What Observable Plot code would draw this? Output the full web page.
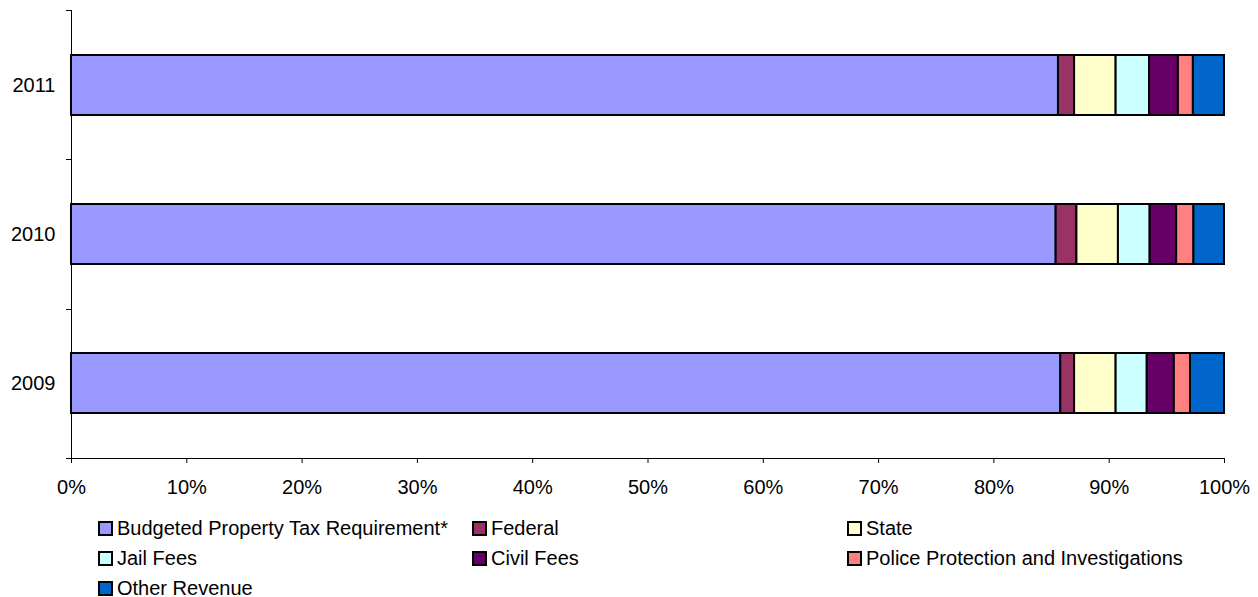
<!DOCTYPE html>
<html><head><meta charset="utf-8">
<script src="https://cdn.jsdelivr.net/npm/d3@7"></script>
<script src="https://cdn.jsdelivr.net/npm/@observablehq/plot@0.6"></script>
<style>
body{margin:0;background:#fff;font-family:"Liberation Sans",Arial,sans-serif;}
#legend{display:grid;grid-template-columns:374px 375px 380px;padding-left:98px;margin-top:8px;font-size:20px;line-height:30px;color:#000;}
.item{display:flex;align-items:center;white-space:nowrap;}
.sw{display:inline-block;width:11px;height:11px;border:2px solid #000;margin-right:4px;}
</style></head>
<body><div id="chart"></div><div id="legend"></div>
<script>
const years = ["2011", "2010", "2009"];
const categories = ["Budgeted Property Tax Requirement*", "Federal", "State", "Jail Fees", "Civil Fees", "Police Protection and Investigations", "Other Revenue"];
const colors = ["#9999FF", "#993366", "#FFFFCC", "#CCFFFF", "#660066", "#FF8080", "#0066CC"];
const values2011 = [85.6, 1.4, 3.6, 2.9, 2.5, 1.3, 2.7];
const values2010 = [85.4, 1.8, 3.6, 2.75, 2.3, 1.5, 2.65];
const values2009 = [85.8, 1.2, 3.6, 2.7, 2.35, 1.4, 2.95];
const xTicks = [0, 0.1, 0.2, 0.3, 0.4, 0.5, 0.6, 0.7, 0.8, 0.9, 1];

const series = {"2011": values2011, "2010": values2010, "2009": values2009};
const table = years.flatMap(y => categories.map((c, i) => ({year: y, category: c, value: series[y][i]})));

function axisLines(index, scales, values, dims) {
  const {width, height, marginTop, marginBottom, marginLeft, marginRight} = dims;
  const bottom = height - marginBottom;
  const n = years.length;
  const g = d3.create("svg:g").attr("stroke", "#000").attr("stroke-width", 1).attr("shape-rendering", "crispEdges");
  g.append("line").attr("x1", marginLeft + 0.5).attr("x2", marginLeft + 0.5).attr("y1", marginTop).attr("y2", bottom);
  g.append("line").attr("x1", marginLeft - 5).attr("x2", width - marginRight).attr("y1", bottom + 0.5).attr("y2", bottom + 0.5);
  for (let i = 0; i <= n; i++) {
    const y = marginTop + i * (bottom - marginTop) / n;
    g.append("line").attr("x1", marginLeft - 5).attr("x2", marginLeft).attr("y1", Math.round(y) + 0.5).attr("y2", Math.round(y) + 0.5);
  }
  return g.node();
}

const chart = Plot.plot({
  width: 1258,
  height: 505,
  marginTop: 10,
  marginBottom: 47,
  marginLeft: 71,
  marginRight: 34,
  style: {fontFamily: "'Liberation Sans', Arial, sans-serif", fontSize: "20px", color: "#000", background: "#fff"},
  x: {domain: [0, 1]},
  y: {domain: years, paddingInner: 0.6, paddingOuter: 0.3},
  color: {domain: categories, range: colors},
  marks: [
    Plot.barX(table, Plot.stackX({x: "value", y: "year", fill: "category", offset: "normalize", order: null, stroke: "#000", strokeWidth: 2})),
    axisLines,
    Plot.axisX({ticks: xTicks, tickFormat: d3.format(".0%"), tickSize: 5, tickPadding: 16, label: null, fontSize: 20}),
    Plot.axisY({tickSize: 0, tickPadding: 16, label: null, fontSize: 20})
  ]
});
document.getElementById("chart").appendChild(chart);

const legend = document.getElementById("legend");
categories.forEach((c, i) => {
  const it = document.createElement("div");
  it.className = "item";
  const sw = document.createElement("span");
  sw.className = "sw";
  sw.style.background = colors[i];
  it.appendChild(sw);
  it.appendChild(document.createTextNode(c));
  legend.appendChild(it);
});
</script>
</body></html>
